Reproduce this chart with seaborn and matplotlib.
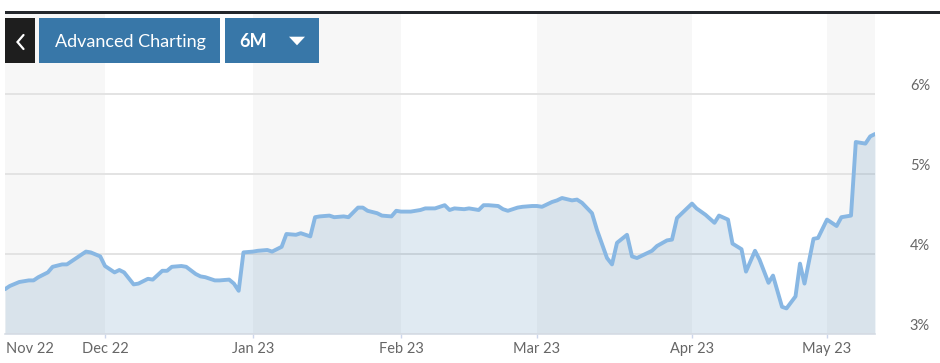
import numpy as np
import pandas as pd
import matplotlib
matplotlib.use("Agg")
import matplotlib.pyplot as plt
import matplotlib.dates as mdates
import matplotlib.ticker as mticker
from matplotlib.patches import Rectangle, Polygon
from matplotlib.lines import Line2D
from matplotlib.transforms import offset_copy
import seaborn as sns

# ---------------- data ----------------
dates = [
    "2022-11-10", "2022-11-11", "2022-11-13", "2022-11-15", "2022-11-16", "2022-11-17",
    "2022-11-19", "2022-11-20", "2022-11-22", "2022-11-23", "2022-11-24", "2022-11-25",
    "2022-11-27", "2022-11-28", "2022-11-30",
    "2022-12-01", "2022-12-03", "2022-12-04", "2022-12-05", "2022-12-07", "2022-12-08",
    "2022-12-10", "2022-12-11", "2022-12-13", "2022-12-14", "2022-12-15", "2022-12-17",
    "2022-12-18", "2022-12-20", "2022-12-21", "2022-12-22", "2022-12-24", "2022-12-25",
    "2022-12-27", "2022-12-28", "2022-12-29", "2022-12-30",
    "2023-01-01", "2023-01-02", "2023-01-04", "2023-01-05", "2023-01-07", "2023-01-08",
    "2023-01-10", "2023-01-11", "2023-01-13", "2023-01-14", "2023-01-15", "2023-01-17",
    "2023-01-18", "2023-01-20", "2023-01-21", "2023-01-23", "2023-01-24", "2023-01-25",
    "2023-01-27", "2023-01-28", "2023-01-30", "2023-01-31",
    "2023-02-01", "2023-02-03", "2023-02-04", "2023-02-05", "2023-02-06", "2023-02-08",
    "2023-02-10", "2023-02-11", "2023-02-12", "2023-02-14", "2023-02-15", "2023-02-17",
    "2023-02-18", "2023-02-19", "2023-02-21", "2023-02-22", "2023-02-23", "2023-02-25",
    "2023-02-26", "2023-02-28",
    "2023-03-01", "2023-03-02", "2023-03-04", "2023-03-05", "2023-03-06", "2023-03-08",
    "2023-03-09", "2023-03-10", "2023-03-12", "2023-03-13", "2023-03-15", "2023-03-16",
    "2023-03-17", "2023-03-19", "2023-03-20", "2023-03-21", "2023-03-23", "2023-03-24",
    "2023-03-25", "2023-03-27", "2023-03-28", "2023-03-29", "2023-03-31",
    "2023-04-01", "2023-04-02", "2023-04-04", "2023-04-06", "2023-04-07", "2023-04-09",
    "2023-04-10", "2023-04-12", "2023-04-13", "2023-04-15", "2023-04-16", "2023-04-18",
    "2023-04-19", "2023-04-21", "2023-04-22", "2023-04-24", "2023-04-25", "2023-04-26",
    "2023-04-28", "2023-04-29",
    "2023-05-01", "2023-05-03", "2023-05-04", "2023-05-06", "2023-05-07", "2023-05-09",
    "2023-05-10", "2023-05-11",
]
values = [
    3.56, 3.60, 3.65, 3.67, 3.67, 3.71,
    3.77, 3.84, 3.87, 3.87, 3.91, 3.95,
    4.03, 4.02, 3.97,
    3.85, 3.77, 3.80, 3.77, 3.62, 3.63,
    3.69, 3.68, 3.79, 3.79, 3.84, 3.85,
    3.84, 3.75, 3.72, 3.71, 3.67, 3.67,
    3.68, 3.63, 3.54, 4.02,
    4.03, 4.04, 4.05, 4.03, 4.09, 4.25,
    4.24, 4.26, 4.22, 4.46, 4.47, 4.48,
    4.46, 4.47, 4.46, 4.58, 4.58, 4.54,
    4.51, 4.48, 4.47, 4.54,
    4.53, 4.53, 4.54, 4.55, 4.57, 4.57,
    4.61, 4.55, 4.57, 4.56, 4.57, 4.55,
    4.61, 4.61, 4.60, 4.56, 4.54, 4.58,
    4.59, 4.60,
    4.60, 4.59, 4.65, 4.67, 4.70, 4.67,
    4.68, 4.64, 4.51, 4.30, 3.95, 3.87,
    4.14, 4.24, 3.97, 3.95, 4.01, 4.04,
    4.10, 4.17, 4.18, 4.45, 4.57,
    4.63, 4.57, 4.49, 4.39, 4.48, 4.43,
    4.13, 4.06, 3.78, 4.04, 3.93, 3.64,
    3.73, 3.34, 3.32, 3.47, 3.88, 3.63,
    4.19, 4.20,
    4.43, 4.35, 4.46, 4.48, 5.40, 5.38,
    5.47, 5.50,
]
month_ticks = ["2022-12-01", "2023-01-01", "2023-02-01", "2023-03-01", "2023-04-01", "2023-05-01"]
month_labels = ["Dec 22", "Jan 23", "Feb 23", "Mar 23", "Apr 23", "May 23"]
first_label = "Nov 22"
y_ticks = [3, 4, 5, 6]
y_labels = ["3%", "4%", "5%", "6%"]
band_edges = ["2022-11-10", "2022-12-01", "2023-01-01", "2023-02-01",
              "2023-03-01", "2023-04-01", "2023-05-01", "2023-05-11"]
button_texts = ["Advanced Charting", "6M"]

# ---------------- style ----------------
sns.set_theme(style="white")
plt.rcParams["font.family"] = ["Lato", "DejaVu Sans"]

df = pd.DataFrame({"date": pd.to_datetime(dates), "value": values})
tick_dates = pd.to_datetime(month_ticks)
edges = pd.to_datetime(band_edges)

W, H = 940, 363
fig = plt.figure(figsize=(W / 100, H / 100), dpi=100)
fig.patch.set_facecolor("white")
ax = fig.add_axes([5 / W, 29 / H, 870 / W, 320 / H])
ax.set_facecolor("white")

# ordinal-like (trading-session) time axis: month widths as in the original chart
anchor_num = mdates.date2num(edges)
anchor_pos = np.array([0.0, 100, 248, 396, 532, 687, 822, 870])


def _fwd(x):
    return np.interp(x, anchor_num, anchor_pos)


def _inv(p):
    return np.interp(p, anchor_pos, anchor_num)


ax.set_xscale("function", functions=(_fwd, _inv))

# alternating month bands
for i in range(len(edges) - 1):
    if i % 2 == 0:
        ax.axvspan(edges[i], edges[i + 1], color="#f7f7f7", lw=0, zorder=0)

# area + line
ax.fill_between(df["date"], df["value"], 3, color=(48 / 255, 115 / 255, 168 / 255),
                alpha=0.15, lw=0, zorder=1)
sns.lineplot(data=df, x="date", y="value", ax=ax, color="#88b7e3", linewidth=2.8,
             zorder=3, solid_joinstyle="round", solid_capstyle="round")

ax.set_xlim(df["date"].iloc[0], df["date"].iloc[-1])
ax.set_ylim(3, 7)
ax.set_xlabel("")
ax.set_ylabel("")

# grid
ax.set_yticks(y_ticks)
ax.set_yticklabels([])
ax.set_axisbelow(True)
ax.yaxis.grid(True, color="#e3e3e3", lw=1.4)
ax.xaxis.grid(False)
ax.tick_params(axis="y", length=0)

# x ticks
ax.xaxis.set_minor_locator(mticker.NullLocator())
ax.set_xticks(tick_dates)
ax.set_xticklabels(month_labels)
ax.tick_params(axis="x", length=3, width=1, color="#ccd6eb", pad=3,
               labelsize=10.5, labelcolor="#666666", bottom=True, direction="out")

for s in ["top", "left", "right"]:
    ax.spines[s].set_visible(False)
ax.spines["bottom"].set_color("#d8dee6")
ax.spines["bottom"].set_linewidth(1.2)

ax.annotate(first_label, xy=(0, 0), xycoords="axes fraction", xytext=(1, -8),
            textcoords="offset pixels", ha="left", va="top", fontsize=10.5,
            color="#666666")

# y labels on the right, slightly above gridlines
ytrans = offset_copy(ax.get_yaxis_transform(), fig=fig, x=0, y=8, units="dots")
for v, lab in zip(y_ticks, y_labels):
    ax.text((930 - 5) / 870, v, lab, transform=ytrans, ha="right", va="center",
            fontsize=10.5, color="#666666", clip_on=False)

# ---------------- header decorations ----------------
def rect_px(x, y, w, h, color, z=5):
    r = Rectangle((x / W, 1 - (y + h) / H), w / W, h / H, transform=fig.transFigure,
                  facecolor=color, edgecolor="none", zorder=z)
    fig.add_artist(r)


rect_px(5, 11, 935, 3, "#24272c")
rect_px(5, 18.3, 30, 44.4, "#1e1e1e")
rect_px(39, 18.3, 181, 44.4, "#3877a8")
rect_px(225, 18.3, 94, 44.4, "#3877a8")

chev = Line2D([23.5 / W, 17.5 / W, 23.5 / W], [1 - 35 / H, 1 - 42 / H, 1 - 49 / H],
              transform=fig.transFigure, color="white", lw=1.6, zorder=6,
              solid_joinstyle="miter")
fig.add_artist(chev)

tri = Polygon([(289 / W, 1 - 36.7 / H), (305 / W, 1 - 36.7 / H), (297 / W, 1 - 45.3 / H)],
              closed=True, transform=fig.transFigure, facecolor="white",
              edgecolor="none", zorder=6)
fig.add_artist(tri)

fig.text(130 / W, 1 - 46.7 / H, button_texts[0], color="white", fontsize=13,
         ha="center", va="baseline", zorder=7)
fig.text(239 / W, 1 - 46.7 / H, button_texts[1], color="white", fontsize=13,
         fontweight="bold", ha="left", va="baseline", zorder=7)

fig.savefig("out.png", dpi=100, facecolor="white")
